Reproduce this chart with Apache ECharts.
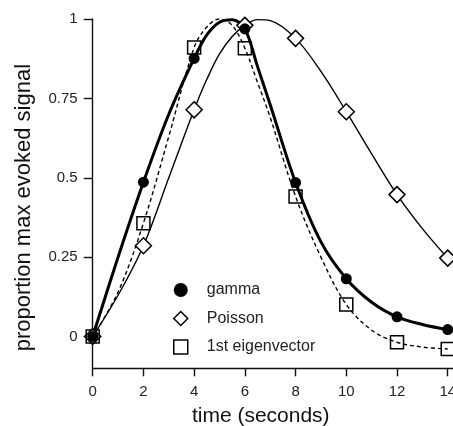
<!DOCTYPE html>
<html>
<head>
<meta charset="utf-8">
<script src="https://cdn.jsdelivr.net/npm/echarts@6/dist/echarts.min.js"></script>
<style>html,body{margin:0;padding:0;background:#fff}#c{width:453px;height:426px}</style>
</head>
<body>
<div id="c"></div>
<script>
// Sample times (seconds) for the markers
var sampleTimes = [0, 2, 4, 6, 8, 10, 12, 14];
var gammaValues = [0, 0.486, 0.876, 0.969, 0.485, 0.182, 0.062, 0.022];
var poissonValues = [0, 0.286, 0.714, 0.98, 0.939, 0.708, 0.447, 0.247];
var eigenValues = [0, 0.357, 0.91, 0.908, 0.441, 0.101, -0.018, -0.039];

// Fitted curves
var curveTimes = [0, 1, 2, 3, 4, 4.5, 5, 5.5, 6, 6.5, 7, 8, 9, 10, 11, 12, 13, 14];
var gammaCurve = [0, 0.25, 0.486, 0.70, 0.876, 0.95, 0.99, 0.998, 0.969, 0.85, 0.73, 0.485, 0.298, 0.182, 0.108, 0.062, 0.038, 0.022];
var poissonCurve = [0, 0.13, 0.286, 0.50, 0.714, 0.81, 0.89, 0.945, 0.98, 0.998, 0.995, 0.939, 0.835, 0.708, 0.575, 0.447, 0.34, 0.247];
var eigenCurve = [0, 0.14, 0.357, 0.63, 0.91, 0.975, 1.0, 0.98, 0.908, 0.80, 0.69, 0.441, 0.25, 0.101, 0.02, -0.018, -0.033, -0.039];

var xTicks = [0, 2, 4, 6, 8, 10, 12, 14];
var yTicks = [0, 0.25, 0.5, 0.75, 1];
var seriesNames = ['gamma', 'Poisson', '1st eigenvector'];

function pairs(xs, ys) { return xs.map(function (x, i) { return [x, ys[i]]; }); }

var FONT = 'Liberation Sans, Arial, Helvetica, sans-serif';
var chart = echarts.init(document.getElementById('c'), null, {renderer: 'canvas'});
chart.setOption({
  animation: false,
  backgroundColor: '#fff',
  grid: {left: 92.7, top: 19, right: 0.2, bottom: 57.7, containLabel: false, outerBoundsMode: 'none'},
  xAxis: {
    type: 'value', min: 0, max: 14.2,
    name: 'time (seconds)', nameLocation: 'middle', nameGap: 37,
    nameTextStyle: {fontFamily: FONT, fontSize: 21, color: '#111', padding: [0, 24, 0, 0]},
    axisLine: {show: true, onZero: false, lineStyle: {color: '#111', width: 1.4}},
    axisTick: {show: true, length: 8, customValues: xTicks, lineStyle: {color: '#111', width: 1.4}},
    axisLabel: {customValues: xTicks, margin: 16, fontFamily: FONT, fontSize: 15, color: '#222'},
    splitLine: {show: false}
  },
  yAxis: {
    type: 'value', min: -0.1, max: 1,
    name: 'proportion max evoked signal', nameLocation: 'middle', nameGap: 58,
    nameTextStyle: {fontFamily: FONT, fontSize: 22, color: '#111', padding: [0, 28, 0, 0]},
    axisLine: {show: true, onZero: false, lineStyle: {color: '#111', width: 1.4}},
    axisTick: {show: true, length: 9, customValues: yTicks, lineStyle: {color: '#111', width: 1.4}},
    axisLabel: {customValues: yTicks, margin: 15, fontFamily: FONT, fontSize: 15, color: '#222',
      formatter: function (v) { return String(v); }},
    splitLine: {show: false}
  },
  legend: {
    orient: 'vertical', left: 168, top: 277,
    itemWidth: 14, itemHeight: 14, itemGap: 12.5,
    textStyle: {fontFamily: FONT, fontSize: 16, color: '#222', padding: [0, 0, 0, 14]},
    data: [
      {name: seriesNames[0], icon: 'circle', itemStyle: {color: '#000', borderWidth: 0}},
      {name: seriesNames[1], icon: 'diamond', itemStyle: {color: '#fff', borderColor: '#000', borderWidth: 1.5}},
      {name: seriesNames[2], icon: 'rect', itemStyle: {color: 'rgba(255,255,255,0)', borderColor: '#000', borderWidth: 1.5}}
    ]
  },
  series: [
    {name: 'gamma fit', type: 'line', smooth: 0.35, showSymbol: false, data: pairs(curveTimes, gammaCurve),
      lineStyle: {color: '#000', width: 3}, z: 2},
    {name: 'Poisson fit', type: 'line', smooth: 0.35, showSymbol: false, data: pairs(curveTimes, poissonCurve),
      lineStyle: {color: '#000', width: 1.4}, z: 2},
    {name: 'eigen fit', type: 'line', smooth: 0.35, showSymbol: false, data: pairs(curveTimes, eigenCurve),
      lineStyle: {color: '#000', width: 1.4, type: [4, 3]}, z: 2},
    {name: seriesNames[0], type: 'scatter', symbol: 'circle', symbolSize: 11, data: pairs(sampleTimes, gammaValues),
      itemStyle: {color: '#000', opacity: 1}, z: 5},
    {name: seriesNames[1], type: 'scatter', symbol: 'diamond', symbolSize: 16, data: pairs(sampleTimes, poissonValues),
      itemStyle: {color: '#fff', borderColor: '#000', borderWidth: 1.5, opacity: 1}, z: 4},
    {name: seriesNames[2], type: 'scatter', symbol: 'rect', symbolSize: 13, data: pairs(sampleTimes, eigenValues),
      itemStyle: {color: 'rgba(255,255,255,0)', borderColor: '#000', borderWidth: 1.5, opacity: 1}, z: 4}
  ]
});
</script>
</body>
</html>
